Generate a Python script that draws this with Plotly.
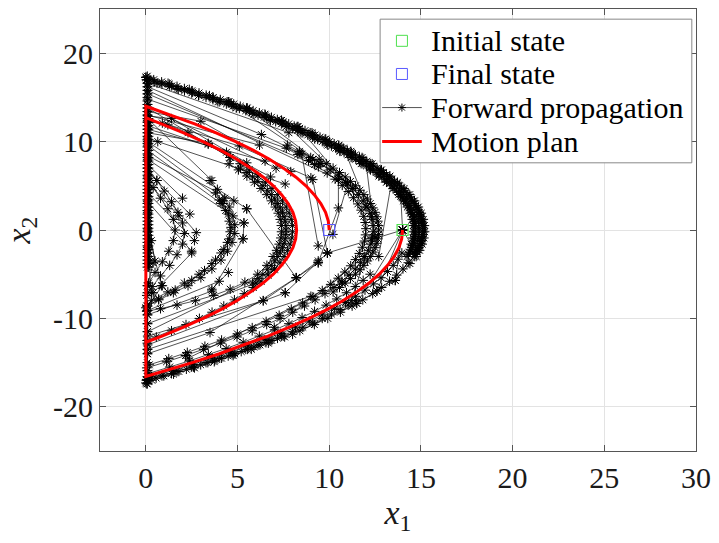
import plotly.graph_objects as go

# ---------------- data (x1, x2) ----------------
initial_state = (14.0, 0.0)
final_state = (10.0, 0.0)

# motion plan: fall from the initial state, two bounces, end at the final state
plan_x1 = [14.0, 13.95, 13.8, 13.54, 13.18, 12.73, 12.17, 11.5, 10.74, 9.87, 8.9, 7.83, 6.66, 5.39, 4.01, 2.53, 0.95, 0.0,
           0.0, 0.88, 2.06, 3.12, 4.09, 4.96, 5.72, 6.39, 6.95, 7.4, 7.76, 8.02, 8.17, 8.22, 8.17, 8.02, 7.76, 7.4, 6.95,
           6.39, 5.72, 4.96, 4.09, 3.12, 2.06, 0.88, 0.0,
           0.0, 1.39, 2.66, 3.83, 4.9, 5.87, 6.74, 7.5, 8.17, 8.73, 9.18, 9.54, 9.8, 9.95, 10.0]
plan_x2 = [0, -1, -2, -3, -4, -5, -6, -7, -8, -9, -10, -11, -12, -13, -14, -15, -16, -16.57,
           12.7, 12, 11, 10, 9, 8, 7, 6, 5, 4, 3, 2, 1, 0, -1, -2, -3, -4, -5,
           -6, -7, -8, -9, -10, -11, -12, -12.7,
           14, 13, 12, 11, 10, 9, 8, 7, 6, 5, 4, 3, 2, 1, 0]

# densely sampled outermost arc (upper half)
band_x2 = [17.25, 17.0, 16.75, 16.5, 16.25, 16.0, 15.75, 15.5, 15.25, 15.0, 14.75, 14.5, 14.25, 14.0, 13.75,
           13.5, 13.25, 13.0, 12.75, 12.5, 12.25, 12.0, 11.75, 11.5, 11.25, 11.0, 10.75, 10.5, 10.25, 10.0,
           9.75, 9.5, 9.25, 9.0, 8.75, 8.5, 8.25, 8.0, 7.75, 7.5, 7.25, 7.0, 6.75, 6.5, 6.25, 6.0, 5.75, 5.5,
           5.25, 5.0, 4.75, 4.5, 4.25, 4.0, 3.75, 3.5, 3.25, 3.0, 2.75, 2.5, 2.25, 2.0, 1.75, 1.5, 1.25, 1.0,
           0.75, 0.5, 0.25, 0.0, -0.25, -0.5, -0.75, -1.0, -1.25, -1.5, -1.75, -2.0, -2.25, -2.5, -2.75, -3.0]
band_x1_a = [0.00, 0.43, 0.86, 1.28, 1.70, 2.10, 2.51, 2.90, 3.29, 3.68, 4.06, 4.43, 4.79, 5.15, 5.50,
             5.85, 6.19, 6.52, 6.85, 7.17, 7.48, 7.79, 8.09, 8.39, 8.68, 8.96, 9.23, 9.50, 9.77, 10.02,
             10.27, 10.52, 10.76, 10.99, 11.21, 11.43, 11.65, 11.85, 12.05, 12.24, 12.43, 12.61, 12.79, 12.96,
             13.12, 13.27, 13.42, 13.56, 13.70, 13.83, 13.95, 14.07, 14.18, 14.29, 14.39, 14.48, 14.56, 14.64,
             14.72, 14.78, 14.84, 14.90, 14.94, 14.99, 15.02, 15.05, 15.07, 15.09, 15.10, 15.10, 15.10, 15.09,
             15.07, 15.05, 15.02, 14.99, 14.94, 14.90, 14.84, 14.78, 14.72, 14.64]
band_x1_b = [0.00, 0.03, 0.46, 0.88, 1.30, 1.70, 2.11, 2.50, 2.89, 3.28, 3.66, 4.03, 4.39, 4.75, 5.10,
             5.45, 5.79, 6.12, 6.45, 6.77, 7.08, 7.39, 7.69, 7.99, 8.28, 8.56, 8.83, 9.10, 9.37, 9.62,
             9.87, 10.12, 10.36, 10.59, 10.81, 11.03, 11.25, 11.45, 11.65, 11.84, 12.03, 12.21, 12.39, 12.56,
             12.72, 12.87, 13.02, 13.16, 13.30, 13.43, 13.55, 13.67, 13.78, 13.89, 13.99, 14.08, 14.16, 14.24,
             14.32, 14.38, 14.44, 14.50, 14.54, 14.59, 14.62, 14.65, 14.67, 14.69, 14.70, 14.70, 14.70, 14.69,
             14.67, 14.65, 14.62, 14.59, 14.54, 14.50, 14.44, 14.38, 14.32, 14.24]

# further upper arcs of the propagation tree
outer_a = [(0.01, 17.3), (1.21, 16.6), (2.37, 15.9), (3.47, 15.2), (4.53, 14.5), (5.53, 13.8), (6.49, 13.1),
           (7.39, 12.4), (8.25, 11.7), (9.06, 11.0), (9.81, 10.3), (10.52, 9.6), (11.18, 8.9), (11.79, 8.2),
           (12.34, 7.5), (12.85, 6.8), (13.31, 6.1), (13.72, 5.4), (14.08, 4.7), (14.39, 4.0), (14.65, 3.3),
           (14.86, 2.6), (15.02, 1.9), (15.13, 1.2), (15.19, 0.5), (15.2, -0.2), (15.16, -0.9), (15.07, -1.6),
           (14.93, -2.3), (14.74, -3.0)]
outer_b = [(0.23, 17.0), (1.41, 16.3), (2.55, 15.6), (3.63, 14.9), (4.66, 14.2), (5.65, 13.5), (6.58, 12.8),
           (7.47, 12.1), (8.30, 11.4), (9.09, 10.7), (9.82, 10.0), (10.51, 9.3), (11.15, 8.6), (11.73, 7.9),
           (12.27, 7.2), (12.76, 6.5), (13.19, 5.8), (13.58, 5.1), (13.92, 4.4), (14.21, 3.7), (14.44, 3.0),
           (14.63, 2.3), (14.77, 1.6), (14.86, 0.9), (14.9, 0.2), (14.89, -0.5), (14.83, -1.2), (14.72, -1.9),
           (14.56, -2.6)]
outer_c = [(0.61, 16.6), (1.77, 15.9), (2.87, 15.2), (3.93, 14.5), (4.93, 13.8), (5.89, 13.1), (6.79, 12.4),
           (7.65, 11.7), (8.46, 11.0), (9.21, 10.3), (9.92, 9.6), (10.58, 8.9), (11.19, 8.2), (11.74, 7.5),
           (12.25, 6.8), (12.71, 6.1), (13.12, 5.4), (13.48, 4.7), (13.79, 4.0), (14.05, 3.3), (14.26, 2.6),
           (14.42, 1.9), (14.53, 1.2), (14.59, 0.5), (14.6, -0.2), (14.56, -0.9), (14.47, -1.6)]

# lower half of the outer arcs
lower_a = [(14.31, -3.7), (14.02, -4.4), (13.68, -5.1), (13.29, -5.8), (12.86, -6.5), (12.37, -7.2),
           (11.83, -7.9), (11.25, -8.6), (10.61, -9.3), (9.92, -10.0), (9.19, -10.7), (8.40, -11.4),
           (7.57, -12.1), (6.68, -12.8), (5.75, -13.5), (4.76, -14.2), (3.73, -14.9), (2.65, -15.6),
           (1.51, -16.3), (0.33, -17.0), (0.05, -17.4)]
lower_b = [(13.96, -2.6), (13.75, -3.3), (13.49, -4.0), (13.18, -4.7), (12.82, -5.4), (12.41, -6.1),
           (11.95, -6.8), (11.44, -7.5), (10.89, -8.2), (10.28, -8.9), (9.62, -9.6), (8.91, -10.3),
           (8.16, -11.0), (7.35, -11.7), (6.49, -12.4), (5.59, -13.1), (4.63, -13.8), (3.63, -14.5),
           (2.57, -15.2), (1.47, -15.9), (0.31, -16.6), (0.05, -16.9)]
lower_c = [(12.23, -5.0), (11.85, -5.7), (11.42, -6.4), (10.94, -7.1), (10.41, -7.8), (9.83, -8.5),
           (9.2, -9.2), (8.52, -9.9), (7.8, -10.6), (7.02, -11.3), (6.19, -12.0), (5.31, -12.7),
           (4.38, -13.4), (3.41, -14.1), (2.38, -14.8), (1.3, -15.5), (0.18, -16.2)]
lower_d = [(11.45, -8.0), (11.03, -8.5), (10.59, -9.0), (10.12, -9.5), (9.62, -10.0), (9.10, -10.5),
           (8.56, -11.0), (7.99, -11.5), (7.39, -12.0), (6.77, -12.5), (6.12, -13.0), (5.45, -13.5),
           (4.75, -14.0), (4.03, -14.5), (3.28, -15.0), (2.50, -15.5), (1.70, -16.0), (0.88, -16.5),
           (0.03, -17.0)]
lower_e = [(7.49, -12.0), (7.18, -12.25), (6.87, -12.5), (6.55, -12.75), (6.22, -13.0), (5.89, -13.25),
           (5.55, -13.5), (5.20, -13.75), (4.85, -14.0), (4.49, -14.25), (4.13, -14.5), (3.76, -14.75),
           (3.38, -15.0), (2.99, -15.25), (2.60, -15.5), (2.21, -15.75), (1.80, -16.0), (1.40, -16.25),
           (0.98, -16.5), (0.56, -16.75), (0.13, -17.0), (0.0, -17.3)]

# second arc (reach about 12.5)
hump12_a = [(7.72, 9.6), (8.38, 8.9), (8.99, 8.2), (9.54, 7.5), (10.05, 6.8), (10.51, 6.1), (10.92, 5.4),
            (11.28, 4.7), (11.59, 4.0), (11.85, 3.3), (12.06, 2.6), (12.22, 1.9), (12.33, 1.2), (12.39, 0.5),
            (12.4, -0.2), (12.36, -0.9), (12.27, -1.6), (12.13, -2.3), (11.94, -3.0), (11.71, -3.7),
            (11.42, -4.4), (11.08, -5.1), (10.69, -5.8), (10.26, -6.5), (9.77, -7.2), (9.23, -7.9),
            (8.65, -8.6), (8.01, -9.3), (7.32, -10.0), (6.59, -10.7), (5.80, -11.4), (4.97, -12.1),
            (4.08, -12.8), (3.15, -13.5), (2.16, -14.2), (1.13, -14.9), (0.05, -15.6)]
hump12_b = [(7.66, 9.25), (8.29, 8.55), (8.87, 7.85), (9.41, 7.15), (9.89, 6.45), (10.32, 5.75), (10.71, 5.05),
            (11.04, 4.35), (11.32, 3.65), (11.56, 2.95), (11.74, 2.25), (11.88, 1.55), (11.96, 0.85),
            (12.0, 0.15), (11.98, -0.55), (11.92, -1.25), (11.81, -1.95), (11.64, -2.65), (11.43, -3.35),
            (11.17, -4.05), (10.85, -4.75), (10.49, -5.45), (10.08, -6.15), (9.62, -6.85), (9.11, -7.55),
            (8.55, -8.25), (7.93, -8.95), (7.27, -9.65), (6.56, -10.35), (5.8, -11.05), (4.99, -11.75),
            (4.13, -12.45), (3.22, -13.15), (2.26, -13.85), (1.25, -14.55), (0.19, -15.25)]
hump12_c = [(9.45, 8.0), (9.84, 7.5), (10.21, 7.0), (10.56, 6.5), (10.87, 6.0), (11.16, 5.5), (11.43, 5.0),
            (11.67, 4.5), (11.89, 4.0), (12.08, 3.5), (12.24, 3.0), (12.38, 2.5), (12.50, 2.0), (12.59, 1.5),
            (12.65, 1.0), (12.69, 0.5), (12.7, 0.0), (12.69, -0.5), (12.65, -1.0), (12.59, -1.5), (12.50, -2.0),
            (12.38, -2.5), (12.24, -3.0), (12.08, -3.5), (11.89, -4.0), (11.67, -4.5), (11.43, -5.0),
            (11.16, -5.5), (10.87, -6.0), (10.56, -6.5), (10.21, -7.0)]

# third arc (reach about 8)
hump8_a = [(0.1, 12.4), (1.2, 11.9), (2.3, 11.0), (3.4, 9.7),
           (4.59, 8.2), (5.14, 7.5), (5.65, 6.8), (6.11, 6.1), (6.52, 5.4), (6.88, 4.7), (7.19, 4.0),
           (7.45, 3.3), (7.66, 2.6), (7.82, 1.9), (7.93, 1.2), (7.99, 0.5), (8.0, -0.2), (7.96, -0.9),
           (7.87, -1.6), (7.73, -2.3), (7.54, -3.0), (7.31, -3.7), (7.02, -4.4), (6.68, -5.1), (6.29, -5.8),
           (5.86, -6.5), (5.37, -7.2), (4.83, -7.9), (4.25, -8.6), (3.61, -9.3), (2.92, -10.0), (2.19, -10.7),
           (1.40, -11.4), (0.57, -12.1), (0.07, -12.5)]
hump8_b = [(4.54, 7.5), (5.05, 6.8), (5.51, 6.1), (5.92, 5.4), (6.28, 4.7), (6.59, 4.0), (6.85, 3.3),
           (7.06, 2.6), (7.22, 1.9), (7.33, 1.2), (7.39, 0.5), (7.4, -0.2), (7.36, -0.9), (7.27, -1.6),
           (7.13, -2.3), (6.94, -3.0), (6.6, -4.0), (6.1, -5.0), (5.4, -5.9), (4.6, -6.7), (3.7, -7.4),
           (2.7, -8.0), (1.7, -8.5), (0.8, -8.9), (0.05, -9.2)]
hump8_c = [(5.16, 7.0), (5.51, 6.5), (5.82, 6.0), (6.11, 5.5), (6.38, 5.0), (6.62, 4.5), (6.84, 4.0),
           (7.03, 3.5), (7.19, 3.0), (7.33, 2.5), (7.45, 2.0), (7.54, 1.5), (7.60, 1.0), (7.64, 0.5),
           (7.65, 0.0), (7.64, -0.5), (7.60, -1.0), (7.54, -1.5), (7.45, -2.0), (7.33, -2.5), (7.19, -3.0),
           (7.03, -3.5), (6.84, -4.0), (6.62, -4.5), (6.38, -5.0), (6.11, -5.5), (5.82, -6.0)]

# fourth arc (reach about 4.8)
hump5_a = [(3.5, 5.6), (3.9, 4.6), (4.3, 3.6), (4.55, 2.6), (4.75, 1.6), (4.85, 0.6), (4.85, -0.4),
           (4.7, -1.4), (4.45, -2.4), (4.1, -3.4), (3.6, -4.4), (3.0, -5.4), (2.3, -6.3), (1.5, -7.1),
           (0.7, -7.9), (0.05, -8.6)]
hump5_b = [(4.0, 3.4), (4.35, 2.2), (4.55, 1.0), (4.6, -0.2), (4.45, -1.4), (4.1, -2.6), (3.6, -3.8),
           (2.9, -5.0), (2.1, -6.0), (1.2, -7.0), (0.3, -8.0)]
hump5_c = [(3.8, 4.2), (4.2, 3.0), (4.5, 1.8), (4.65, 0.3), (4.55, -1.0), (4.25, -2.2), (3.8, -3.4),
           (3.2, -4.6), (2.5, -5.7), (1.6, -6.8), (0.7, -7.8), (0.0, -8.8)]

# innermost arc (reach about 2)
hump2_a = [(0.6, 5.6), (1.0, 4.4), (1.4, 3.2), (1.75, 2.0), (2.0, 0.8), (2.1, -0.4), (2.0, -1.6),
           (1.7, -2.8), (1.3, -4.0), (0.8, -5.2), (0.35, -6.4), (0.05, -7.4)]
hump2_b = [(0.4, 4.8), (0.8, 3.6), (1.2, 2.4), (1.5, 1.2), (1.6, 0.0), (1.5, -1.2), (1.25, -2.4),
           (0.9, -3.6), (0.5, -4.8), (0.15, -6.0)]

# nodes reached on the x1 = 0 boundary
edge_x1 = 0.08
edge_x2_upper = [17.4, 17.0, 16.6, 16.2, 15.8, 15.4, 15.0, 14.6, 14.2, 13.8, 13.4, 13.0, 12.6, 12.2, 11.8,
                 11.4, 11.0, 10.6, 10.2, 9.8, 9.4, 9.0, 8.6, 8.2, 7.8, 7.4, 7.0, 6.6, 6.2, 5.8, 5.4, 5.0,
                 4.6, 4.2, 3.8, 3.4, 3.0, 2.6, 2.2, 1.8, 1.4, 1.0, 0.6, 0.2, -0.2, -0.6, -1.0, -1.4, -1.8,
                 -2.2, -2.6, -3.0, -3.4, -3.8, -4.2]
edge_x2_lower = [-6.3, -7.1, -8.6, -9.1, -9.6, -10.6, -11.5, -12.8, -13.5, -14.0, -15.0, -15.9, -16.6,
                 -17.0, -17.4]

# long single propagation steps between nodes
fan_edges = [
    [(0.1, 16.2), (6.3, 10.8), (9.1, 8.0)], [(0.1, 15.4), (9.2, 7.4)], [(0.1, 14.8), (8.4, 8.7)],
    [(0.1, 15.8), (10.5, 5.7)], [(0.1, 13.4), (3.0, 12.3), (7.9, 6.6)], [(0.1, 12.9), (1.4, 12.6), (7.1, 7.0)],
    [(0.1, 12.2), (0.9, 12.1), (5.1, 9.5), (9.0, 5.9)], [(0.1, 11.4), (6.5, 7.8)],
    [(0.1, 10.4), (0.65, 10.0), (7.6, 5.2)], [(0.1, 11.0), (3.4, 9.8), (6.8, 6.0)],
    [(0.1, 10.0), (5.5, 2.4)], [(0.1, 9.0), (4.1, 3.0)], [(0.1, 8.4), (4.8, 3.3)], [(0.1, 7.4), (2.0, 3.6)],
    [(0.1, 6.6), (2.4, 1.8)], [(0.1, 5.4), (1.8, 1.6)], [(0.1, 8.0), (5.35, 0.8)], [(0.1, 6.0), (2.75, -0.3)],
    [(0.1, 4.2), (2.65, -1.2)], [(0.1, 3.2), (2.5, -2.4)], [(0.1, 2.0), (0.3, -1.2), (0.5, -3.5)],
    [(0.1, 0.0), (0.85, -6.3)], [(0.1, -2.0), (0.3, -7.1)], [(0.1, 9.6), (4.2, 3.3)], [(0.1, 12.6), (3.6, 5.6)],
    [(0.1, 13.8), (4.6, 8.2)], [(0.1, 14.2), (5.5, 7.6)], [(0.1, 7.0), (0.6, 5.6)],
    [(0.1, 16.6), (7.8, 11.0)], [(0.1, 13.0), (6.2, 9.6)], [(0.1, 11.8), (4.4, 8.8)],
    [(8.5, 8.6), (9.4, -1.8)], [(9.1, 5.7), (9.9, -2.6)], [(10.5, 5.7), (10.5, 2.5), (9.4, -3.7)],
    [(11.0, 5.2), (10.2, -0.5)], [(9.4, -3.7), (6.4, -8.0)], [(9.9, -2.6), (7.6, -7.1)],
    [(8.2, -5.4), (3.5, -11.6), (0.1, -14.0)], [(6.4, -8.0), (0.1, -12.0)], [(7.6, -7.1), (0.1, -13.0)],
    [(3.6, -6.7), (4.5, -4.8)], [(4.0, -5.8), (0.1, -9.1)], [(5.3, -1.0), (3.6, -6.9), (0.1, -9.6)],
    [(2.5, -2.6), (0.4, -7.1)], [(0.4, -3.7), (0.1, -6.3)], [(0.9, -6.3), (0.1, -8.6)],
    [(5.35, 0.8), (5.3, -1.0)], [(5.5, 2.4), (8.2, -5.4)], [(9.4, -3.5), (8.2, -5.4)],
    [(14.0, 0.0), (14.7, -2.4)], [(14.0, 0.0), (13.6, -5.7)], [(14.0, 0.0), (12.6, -6.9)],
    [(14.0, 0.0), (11.5, -8.3)], [(14.0, 0.0), (9.9, -2.6)], [(14.0, 0.0), (13.9, 3.8)], [(14.0, 0.0), (14.9, 2.0)],
    [(15.0, -1.2), (14.4, -3.8), (13.6, -5.7), (12.6, -6.9), (11.5, -8.3), (8.0, -11.8)],
    [(5.5, 13.8), (10.9, 5.4)], [(7.4, 12.4), (11.3, 4.7)], [(8.3, 11.7), (12.0, 2.6)], [(4.5, 14.5), (9.5, 7.5)],
    [(10.8, 9.2), (12.3, 1.5)], [(12.0, 7.7), (12.5, -0.8)], [(13.4, 5.5), (12.7, -3.0)],
    [(12.3, -1.0), (11.2, -8.0)], [(11.9, -3.0), (7.0, -11.0)], [(10.7, -6.0), (2.3, -14.5)],
    [(6.0, -6.0), (0.1, -10.6)], [(7.0, -4.5), (0.1, -11.5)], [(9.0, -7.5), (0.1, -13.5)],
]

# legend entries, top to bottom
legend_labels = ["Initial state", "Final state", "Forward propagation", "Motion plan"]

# ---------------- assemble the tree ----------------
branches = [list(zip(band_x1_a, band_x2)), list(zip(band_x1_b[1:], band_x2[1:])),
            outer_a, outer_b, outer_c, lower_a, lower_b, lower_c, lower_d, lower_e,
            hump12_a, hump12_b, hump12_c, hump8_a, hump8_b, hump8_c,
            hump5_a, hump5_b, hump5_c, hump2_a, hump2_b,
            [(edge_x1, v) for v in edge_x2_upper],
            [(edge_x1 + 0.07, v) for v in edge_x2_upper[12:]],
            [(edge_x1, v) for v in edge_x2_lower]] + fan_edges

tree_x, tree_y = [], []
for br in branches:
    for a, b in br:
        tree_x.append(a)
        tree_y.append(b)
    tree_x.append(None)
    tree_y.append(None)

SERIF = "Times New Roman"
INK = "#1a1a1a"
GREEN = "#4ee04e"
BLUE = "#5a5aff"
RED = "#ff0000"

fig = go.Figure()
fig.add_trace(go.Scatter(
    x=tree_x, y=tree_y, mode="lines+markers", name=legend_labels[2],
    line=dict(color="rgba(0,0,0,0.85)", width=0.8),
    marker=dict(symbol="asterisk-open", size=8, color="black", line=dict(color="black", width=1)),
))
fig.add_trace(go.Scatter(
    x=plan_x1, y=plan_x2, mode="lines", name=legend_labels[3],
    line=dict(color=RED, width=3),
))
fig.add_trace(go.Scatter(
    x=[initial_state[0]], y=[initial_state[1]], mode="markers", name=legend_labels[0],
    marker=dict(symbol="square-open", size=11, color=GREEN, line=dict(width=1.2)),
))
fig.add_trace(go.Scatter(
    x=[final_state[0]], y=[final_state[1]], mode="markers", name=legend_labels[1],
    marker=dict(symbol="square-open", size=11, color=BLUE, line=dict(width=1.2)),
))

# ---------------- legend box (drawn in paper space, MATLAB style spacing) ----------------
box_x0, box_x1, box_y0, box_y1 = 0.470, 0.993, 0.652, 0.977
row_y = [0.928, 0.853, 0.777, 0.700]
sym_x, line_x0, line_x1, text_x = 0.5066, 0.4734, 0.5399, 0.5515

shapes = [dict(type="rect", xref="paper", yref="paper", x0=box_x0, x1=box_x1, y0=box_y0, y1=box_y1,
               fillcolor="white", line=dict(color="#888888", width=1), layer="above")]


def pixel_square(yc, color):
    return dict(type="rect", xref="paper", yref="paper", xsizemode="pixel", ysizemode="pixel",
                xanchor=sym_x, yanchor=yc, x0=-5.5, x1=5.5, y0=-5.5, y1=5.5,
                line=dict(color=color, width=1), fillcolor="rgba(0,0,0,0)", layer="above")


def pixel_stroke(yc, dx, dy):
    return dict(type="line", xref="paper", yref="paper", xsizemode="pixel", ysizemode="pixel",
                xanchor=sym_x, yanchor=yc, x0=-dx, x1=dx, y0=-dy, y1=dy,
                line=dict(color="black", width=1), layer="above")


shapes.append(pixel_square(row_y[0], GREEN))
shapes.append(pixel_square(row_y[1], BLUE))
shapes.append(dict(type="line", xref="paper", yref="paper", x0=line_x0, x1=line_x1, y0=row_y[2], y1=row_y[2],
                   line=dict(color="rgba(0,0,0,0.85)", width=0.8), layer="above"))
for dx, dy in [(4, 0), (0, 4), (3, 3), (3, -3)]:
    shapes.append(pixel_stroke(row_y[2], dx, dy))
shapes.append(dict(type="line", xref="paper", yref="paper", x0=line_x0, x1=line_x1, y0=row_y[3], y1=row_y[3],
                   line=dict(color=RED, width=3), layer="above"))

annotations = [dict(text=lab, xref="paper", yref="paper", x=text_x, y=yc, xanchor="left", yanchor="middle",
                    showarrow=False, font=dict(family=SERIF, size=30, color="black"))
               for lab, yc in zip(legend_labels, row_y)]

axis_common = dict(
    showgrid=True, gridcolor="#e3e3e3", gridwidth=1, zeroline=False,
    showline=True, linecolor="#555555", linewidth=1, mirror="ticks",
    ticks="inside", ticklen=6, tickcolor="#555555",
    tickfont=dict(family=SERIF, size=30, color=INK),
)
fig.update_xaxes(range=[-2.5, 30], tickvals=[0, 5, 10, 15, 20, 25, 30],
                 ticktext=["0", "5", "10", "15", "20", "25", "30"],
                 title=dict(text="<i>x</i><sub>1</sub>", font=dict(family=SERIF, size=34, color=INK),
                            standoff=4),
                 **axis_common)
fig.update_yaxes(range=[-25, 25], tickvals=[-20, -10, 0, 10, 20],
                 ticktext=["-20", "-10", "0", "10", "20"],
                 title=dict(text="<i>x</i><sub>2</sub>", font=dict(family=SERIF, size=34, color=INK),
                            standoff=12),
                 **axis_common)

fig.update_layout(
    width=719, height=543,
    margin=dict(l=100, r=17, t=8, b=92),
    paper_bgcolor="white", plot_bgcolor="white",
    font=dict(family=SERIF, color=INK),
    showlegend=False,
    shapes=shapes,
    annotations=annotations,
)

fig.write_html("out.html")
